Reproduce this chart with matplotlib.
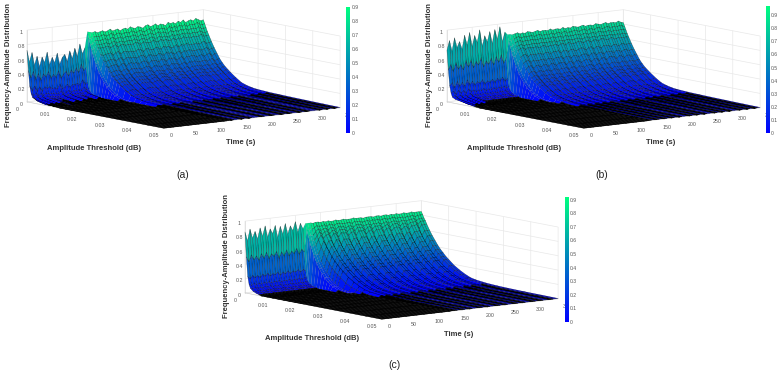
import numpy as np
import matplotlib
matplotlib.use('Agg')
import matplotlib.pyplot as plt
from matplotlib.cm import ScalarMappable
from matplotlib.colors import Normalize

plt.rcParams['font.family'] = ['Liberation Sans', 'DejaVu Sans']
plt.rcParams['grid.color'] = '#e8e8e8'
plt.rcParams['grid.linewidth'] = 0.5

# amplitude threshold grid (dB) and time grid (s)
thresholds = [0, .0005, .001, .0015, .002, .003, .004, .005, .006, .007, .008, .009,
              .010, .012, .014, .016, .018, .020, .024, .028, .032, .038, .044, .05]
times = [0, 5, 10, 15, 20, 25, 30, 35, 40, 45, 50, 55, 60, 65, 70, 75, 80, 85, 90, 95,
         100, 105, 110, 115, 120, 125, 130, 135, 140, 145, 150, 155, 160, 165, 170, 175,
         180, 185, 190, 195, 200, 205, 210, 215, 220, 225, 230, 235, 240, 245, 250, 255,
         260, 265, 270, 275, 280, 285, 290, 295, 300, 305, 310, 315, 320, 325, 330, 335,
         340, 345, 350]

# decay of one time slice along the threshold axis
decay_spike = [1, .60, .28, .15, .09, .05, .03, .015, 0, 0, 0, 0, 0, 0, 0, 0, 0, 0, 0, 0, 0, 0, 0, 0]
decay_bump = [1, .62, .32, .18, .11, .08, .07, .06, .05, .04, .03, .02, .01, 0, 0, 0, 0, 0, 0, 0, 0, 0, 0, 0]
decay_mid = [1, .90, .81, .73, .65, .52, .41, .32, .25, .19, .14, .10, .07, .03, .015, .008, 0, 0, 0, 0, 0, 0, 0, 0]
decay_tail = [1, .94, .88, .82, .77, .67, .58, .50, .42, .36, .31, .27, .23, .16, .10, .07, .05, .04, .03, .025, .02, .015, .01, .006]
decay_cut = [1, .93, .87, .81, .75, .64, .55, .46, .39, .33, .28, .24, .20, .13, .08, .05, .03, .01, 0, 0, 0, 0, 0, 0]
decay_wide = [1, .95, .90, .86, .81, .72, .64, .57, .50, .44, .39, .34, .30, .22, .16, .11, .07, .05, .03, .02, .015, .01, .008, .005]
decay_table = [decay_spike, decay_bump, decay_mid, decay_tail, decay_cut, decay_wide]

# height of the first threshold bin at every time, panel by panel
top_a = [.72, .55, .68, .50, .62, .47, .60, .52, .66, .48, .58, .50, .63, .47, .56, .60,
         .50, .64, .53, .67, .55, .72, .58, .66,
         .88, .87, .86, .87, .85, .86, .87, .85, .86, .88, .85, .86, .87, .84, .86, .87,
         .85, .88, .86, .85, .87, .86, .84, .87, .88, .85, .86, .88, .85, .87, .86, .84,
         .88, .86, .87, .85, .88, .86, .89, .85, .87, .88, .86, .89, .87, .85, .86]
top_b = [.72, .85, .70, .88, .74, .82, .71, .90, .76, .93, .73, .88, .78, .95, .72, .86,
         .77, .91, .74, .93, .79, .96, .75, .88,
         .84, .84, .83, .84, .85, .83, .84, .83, .85, .84, .83, .84, .85, .83, .84, .84,
         .83, .85, .83, .84, .84, .83, .85, .83, .84, .83, .85, .84, .83, .84, .85, .83,
         .84, .84, .83, .85, .84, .83, .84, .85, .83, .84, .84, .83, .85, .83, .82]
top_c = [.85, .72, .88, .75, .84, .73, .88, .76, .90, .74, .85, .78, .89, .72, .87, .76,
         .90, .75, .86, .79, .91, .76, .88, .80,
         .87, .87, .87, .86, .87, .87, .86, .87, .86, .87, .86, .86, .87, .86, .86, .87,
         .86, .86, .86, .87, .86, .86, .86, .85, .86, .86, .86, .85, .86, .86, .85, .86,
         .86, .85, .86, .85, .86, .85, .85, .86, .85, .85, .86, .85, .85, .85, .85]

# which decay curve each time slice follows
shape_a = [1, 0, 1, 0, 1, 0, 1, 1, 0, 1, 0, 0, 1, 0, 0, 1, 0, 0, 1, 0, 0, 1, 0, 0,
           2, 2, 3, 4, 3, 3, 3, 4, 3, 3, 4, 3, 3, 3, 3, 4, 3, 3, 3, 4, 3, 3, 3, 4, 3, 3,
           4, 3, 3, 3, 4, 3, 3, 4, 3, 3, 3, 3, 4, 3, 3, 4, 3, 3, 4, 3, 3]
shape_b = [1, 1, 0, 1, 0, 1, 0, 1, 0, 0, 0, 0, 0, 0, 0, 0, 0, 0, 0, 0, 0, 0, 0, 0,
           2, 2, 4, 3, 3, 4, 3, 3, 4, 3, 3, 4, 3, 3, 4, 3, 3, 3, 4, 3, 3, 4, 3, 3, 4, 3,
           3, 3, 4, 3, 3, 4, 3, 3, 4, 3, 3, 3, 4, 3, 3, 4, 3, 3, 4, 3, 3]
shape_c = [0, 0, 0, 0, 0, 0, 0, 0, 0, 0, 0, 0, 0, 0, 0, 0, 0, 0, 0, 0, 0, 0, 0, 0,
           2, 2, 2, 4, 5, 4, 5, 5, 4, 5, 5, 4, 5, 5, 5, 4, 5, 5, 4, 5, 5, 5, 4, 5, 5, 4,
           5, 5, 5, 4, 5, 5, 4, 5, 5, 5, 4, 5, 5, 4, 5, 5, 5, 4, 5, 5, 5]

x_ticks = [0, .01, .02, .03, .04, .05]
x_labels = ['0', '0.01', '0.02', '0.03', '0.04', '0.05']
t_ticks = [0, 50, 100, 150, 200, 250, 300, 350]
t_labels = ['0', '50', '100', '150', '200', '250', '300', '35']
z_ticks = [0, .2, .4, .6, .8, 1]
z_labels = ['0', '0.2', '0.4', '0.6', '0.8', '1']
cbar_ticks = [0, .1, .2, .3, .4, .5, .6, .7, .8, .9]
cbar_labels = ['0', '0.1', '0.2', '0.3', '0.4', '0.5', '0.6', '0.7', '0.8', '0.9']

W, H = 781, 375
fig = plt.figure(figsize=(W / 100, H / 100), dpi=100)


def panel(top, shape, vmax, ox, oy, bar_x, bar_top, bar_bottom, caption, cap_xy):
    S = 300
    ax = fig.add_axes([(29.5 + ox) / W, (152 - oy) / H, S / W, S / H], projection='3d')
    ax.set_proj_type('ortho')
    ax.view_init(elev=8.6, azim=-37.8)
    ax.set_box_aspect((1, 1, .325), zoom=1.048)
    ax.patch.set_alpha(0)

    X, T = np.meshgrid(thresholds, times)
    Z = np.array(top)[:, None] * np.array(decay_table)[shape]

    norm = Normalize(0, vmax)
    corners = np.stack([Z[:-1, :-1], Z[1:, :-1], Z[:-1, 1:], Z[1:, 1:]])
    colors = plt.cm.winter(norm(corners.mean(axis=0)))
    floor = (corners.min(axis=0) <= 0) & (corners.max(axis=0) < .03)
    colors[floor] = (0, 0, 0, 1)  # the mesh lines close up on the floor
    edges = np.zeros_like(colors)
    edges[..., 3] = .55
    edges[23:26, :, 3] = .15  # the onset face stays bright
    edges[floor] = (0, 0, 0, 1)
    surf = ax.plot_surface(X, T, Z, rstride=1, cstride=1, facecolors=colors, shade=False)
    surf.set_edgecolor(edges.reshape(-1, 4))
    surf.set_linewidth(.3)
    surf.set_clip_on(False)

    ax.set_xlim(0, .05, view_margin=0)
    ax.set_ylim(0, 350, view_margin=0)
    ax.set_zlim(0, 1, view_margin=0)
    ax.set_xticks(x_ticks, x_labels)
    ax.set_yticks(t_ticks, t_labels)
    ax.set_zticks(z_ticks, z_labels)
    ax.zaxis.set_ticks_position('lower')
    ax.tick_params(labelsize=3.8, colors='#555555', pad=-2)
    ax.tick_params(axis='z', pad=-6)
    for axis in (ax.xaxis, ax.yaxis, ax.zaxis):
        axis.set_pane_color((1, 1, 1, 0))
        axis.pane.set_edgecolor('#e8e8e8')
        axis.line.set_color('#d0d0d0')
        axis.line.set_linewidth(.4)
        axis._axinfo['tick']['inward_factor'] = 0
        axis._axinfo['tick']['outward_factor'] = 0

    fig.text((94 + ox) / W, 1 - (148 + oy) / H, 'Amplitude Threshold (dB)', fontsize=5.5,
             fontweight='bold', color='#333333', ha='center', va='center')
    fig.text((241 + ox) / W, 1 - (143 + oy) / H, 'Time (s)', fontsize=5.5,
             fontweight='bold', color='#333333', ha='center', va='center')
    fig.text((9 + ox) / W, 1 - (65 + oy) / H, 'Frequency-Amplitude Distribution', fontsize=5.5,
             fontweight='bold', color='#333333', ha='center', va='center', rotation=90)

    cax = fig.add_axes([bar_x / W, 1 - bar_bottom / H, 3.6 / W, (bar_bottom - bar_top) / H])
    cb = fig.colorbar(ScalarMappable(norm, 'winter'), cax=cax)
    cb.set_ticks(cbar_ticks, labels=cbar_labels)
    cb.ax.tick_params(length=0, labelsize=3.6, pad=1, colors='#555555')
    cb.outline.set_visible(False)

    fig.text(cap_xy[0] / W, 1 - cap_xy[1] / H, caption, fontsize=7.5, color='#222222',
             ha='center', va='center')


panel(top_a, shape_a, .9, 0, 0, 346.3, 7, 133, '(a)', (183, 175))
panel(top_b, shape_b, .97, 420, 0, 766, 6, 133, '(b)', (602, 175))
panel(top_c, shape_c, .92, 218, 191, 565, 197, 322, '(c)', (394, 365))

fig.savefig('out.png', dpi=100)
